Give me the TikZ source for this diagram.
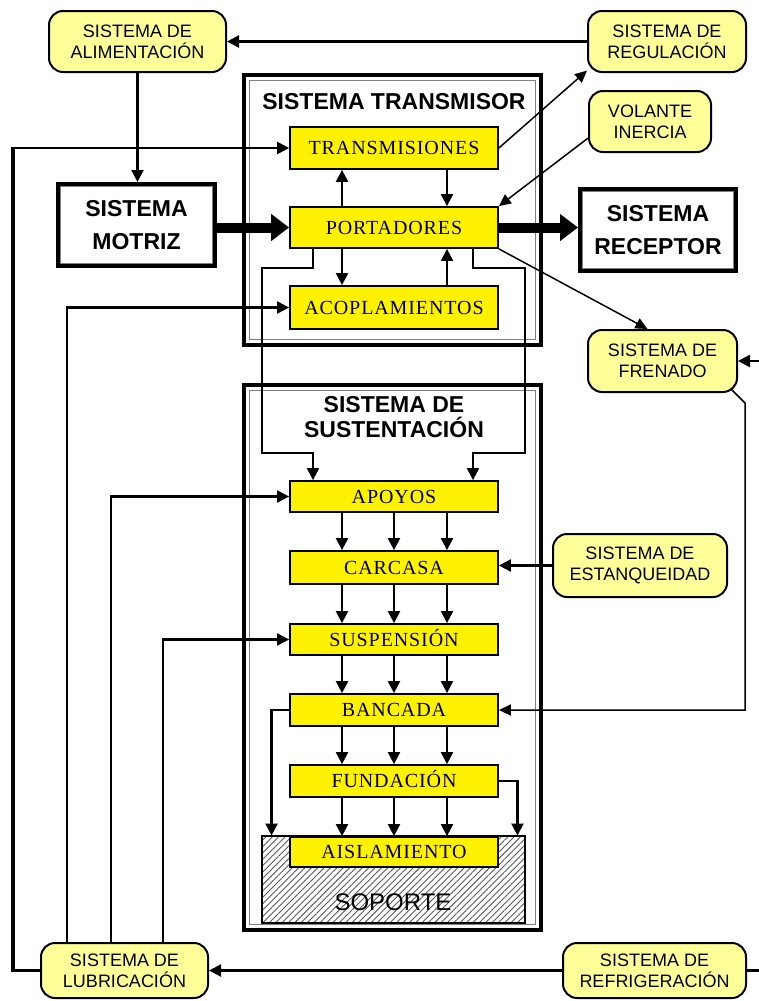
\documentclass[tikz,border=0pt]{standalone}
\usepackage{fontspec}
\setmainfont{Liberation Serif}
\setsansfont{Liberation Sans}
\newfontfamily\serifancha[LetterSpace=4.5]{Liberation Serif}
\usepackage{xcolor}
\usetikzlibrary{arrows.meta,calc,patterns.meta}
\definecolor{amarilloclaro}{RGB}{255,255,153}

\begin{document}
\begin{tikzpicture}[x=1pt,y=-1pt,
  sis/.style={draw,line width=2pt,fill=amarilloclaro,rounded corners=14pt,align=center,inner sep=0pt,font=\sffamily\fontsize{18}{21}\selectfont},
  grande/.style={draw,line width=4pt,align=center,inner sep=0pt,font=\sffamily\bfseries\fontsize{23}{33}\selectfont},
  caja/.style={draw,line width=1.8pt,fill=yellow,minimum width=208pt,inner sep=0pt,text height=13.5pt,text depth=0pt,font=\serifancha\fontsize{20}{20}\selectfont},
  titulo/.style={align=center,font=\sffamily\bfseries\fontsize{23}{25}\selectfont},
  flecha/.style={line width=2.2pt,-{Triangle[length=12pt,width=12pt]}},
  fina/.style={line width=1.5pt,-{Triangle[length=12pt,width=11pt]}}]

\useasboundingbox (0,0) rectangle (759,1001);
\clip (0,0) rectangle (759,1001);

\draw[line width=4pt] (244,75) rectangle (541,345);
\draw[line width=0.8pt,gray] (249.5,80.5) rectangle (535.5,339.5);
\draw[line width=4pt] (244,385) rectangle (541,930);
\draw[line width=0.8pt,gray] (249.5,390.5) rectangle (535.5,924.5);

\node[titulo] (titulotrans) at (394,102) {SISTEMA TRANSMISOR};
\node[titulo] (titulosust) at (394,417.5) {SISTEMA DE\\SUSTENTACIÓN};

\node[sis,minimum width=177,minimum height=61] (alim) at (137.5,41.5) {SISTEMA DE\\ALIMENTACIÓN};
\node[sis,minimum width=158,minimum height=61] (regul) at (667,41.5) {SISTEMA DE\\REGULACIÓN};
\node[sis,minimum width=122,minimum height=61] (volante) at (650,121.5) {VOLANTE\\INERCIA};
\node[sis,minimum width=149,minimum height=62] (frenado) at (662.5,361) {SISTEMA DE\\FRENADO};
\node[sis,minimum width=174,minimum height=63] (estanq) at (640,565.5) {SISTEMA DE\\ESTANQUEIDAD};
\node[sis,minimum width=167,minimum height=55] (lubric) at (124.5,970.5) {SISTEMA DE\\LUBRICACIÓN};
\node[sis,minimum width=183,minimum height=55] (refrig) at (654.5,970.5) {SISTEMA DE\\REFRIGERACIÓN};

\node[grande,minimum width=157,minimum height=82] (motriz) at (136.5,225) {SISTEMA\\MOTRIZ};
\draw[gray,line width=0.8pt] ($(motriz.north west)+(4.5,4.5)$) rectangle ($(motriz.south east)+(-4.5,-4.5)$);
\node[grande,minimum width=156,minimum height=82] (receptor) at (658,230) {SISTEMA\\RECEPTOR};
\draw[gray,line width=0.8pt] ($(receptor.north west)+(4.5,4.5)$) rectangle ($(receptor.south east)+(-4.5,-4.5)$);

\node[caja,minimum height=42] (trans) at (394,148) {TRANSMISIONES};
\node[caja,minimum height=41] (port) at (394,227.5) {PORTADORES};
\node[caja,minimum height=43] (acop) at (394,307.5) {ACOPLAMIENTOS};

\node[draw,line width=1.2pt,pattern={Lines[angle=45,distance=4.5pt,line width=0.9pt]},pattern color=black!65,minimum width=263,minimum height=87,inner sep=0pt] (soporte) at (393.5,879.5) {};
\node[font=\sffamily\fontsize{24}{24}\selectfont] (txtsoporte) at (393,902) {SOPORTE};

\node[caja,minimum height=31] (apoyos) at (394,496.5) {APOYOS};
\node[caja,minimum height=33] (carcasa) at (394,567.5) {CARCASA};
\node[caja,minimum height=31] (susp) at (394,639.5) {SUSPENSIÓN};
\node[caja,minimum height=32] (bancada) at (394,710) {BANCADA};
\node[caja,minimum height=32] (fund) at (394,781) {FUNDACIÓN};
\node[caja,minimum height=30] (aisl) at (394,852) {AISLAMIENTO};

\draw[line width=10pt,-{Triangle[length=18pt,width=26pt]}] (port.west -| motriz.east) -- (port.west);
\draw[line width=10pt,-{Triangle[length=18pt,width=26pt]}] (port.east) -- (port.east -| receptor.west);

\draw[flecha] (regul.west) -- (alim.east);
\draw[flecha] (alim.south) -- (alim.south |- motriz.north);

\draw[flecha] ([xshift=53]trans.south) -- ([xshift=53]port.north);
\draw[flecha] ([xshift=-52]port.north) -- ([xshift=-52]trans.south);
\draw[flecha] ([xshift=-52]port.south) -- ([xshift=-52]acop.north);
\draw[flecha] ([xshift=53]acop.north) -- ([xshift=53]port.south);

\draw[flecha] ([xshift=-81]port.south) -- ++(0,19) -| (262,453) -| ([xshift=-81]apoyos.north);
\draw[flecha] ([xshift=79]port.south) -- ++(0,19) -| (525,453) -| ([xshift=79]apoyos.north);

\foreach \desde/\hasta in {apoyos/carcasa,carcasa/susp,susp/bancada,bancada/fund,fund/aisl}
  \foreach \dx in {-52,0,53}
    \draw[flecha] ([xshift=\dx]\desde.south) -- ([xshift=\dx]\hasta.north);

\draw[flecha] (bancada.west) -| ([xshift=10]soporte.north west);
\draw[flecha] (fund.east) -| ([xshift=-8]soporte.north east);

\draw[fina] (trans.east) -- (regul.200);
\draw[fina] (volante.195) -- (port.north east);
\draw[fina] (port.south east) -- ([xshift=-15]frenado.north);
\draw[fina] ($(frenado.south east)+(-7,-4)$) -- (745,403) |- (bancada.east);
\draw[flecha] (estanq.west) -- (estanq.west -| carcasa.east);

\draw[flecha] (refrig.west) -- (lubric.east);
\draw[flecha] (refrig.east) -- (775,970.5) |- (frenado.east);

\coordinate (esq) at (13,148);
\draw[line width=3.2pt] (lubric.west) -| (esq);
\draw[flecha] ([xshift=-1.6]esq) -- (trans.west);
\draw[flecha] ([xshift=-57.5]lubric.north) |- (acop.west);
\draw[flecha] ([xshift=-13.5]lubric.north) |- (apoyos.west);
\draw[flecha] ([xshift=38.5]lubric.north) |- (susp.west);

\end{tikzpicture}
\end{document}
